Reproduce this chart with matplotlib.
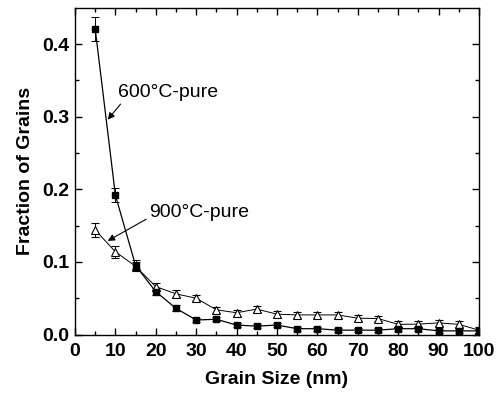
import matplotlib
matplotlib.use("Agg")
import matplotlib.pyplot as plt
import numpy as np

plt.rcParams['font.family'] = ['Liberation Sans', 'DejaVu Sans']

# grain size bins (nm)
grain_size = [5, 10, 15, 20, 25, 30, 35, 40, 45, 50,
              55, 60, 65, 70, 75, 80, 85, 90, 95, 100]

# 600 C pure
frac_600 = [0.421, 0.192, 0.095, 0.059, 0.036, 0.020, 0.021, 0.013, 0.0115, 0.013,
            0.008, 0.008, 0.006, 0.006, 0.006, 0.008, 0.008, 0.005, 0.005, 0.005]
err_600 = [0.016, 0.010, 0.007, 0.005, 0.004, 0.003, 0.003, 0.003, 0.003, 0.003,
           0.003, 0.003, 0.003, 0.003, 0.003, 0.003, 0.003, 0.003, 0.003, 0.003]

# 900 C pure
frac_900 = [0.144, 0.114, 0.094, 0.066, 0.056, 0.050, 0.034, 0.030, 0.035, 0.028,
            0.027, 0.027, 0.027, 0.0225, 0.022, 0.014, 0.0143, 0.016, 0.014, 0.006]
err_900 = [0.010, 0.008, 0.006, 0.005, 0.005, 0.004, 0.004, 0.004, 0.004, 0.004,
           0.004, 0.004, 0.004, 0.004, 0.004, 0.004, 0.004, 0.004, 0.004, 0.004]

fig = plt.figure(figsize=(5.0, 3.94), dpi=100)
ax = fig.add_axes([0.15, 0.151, 0.808, 0.829])

ax.errorbar(grain_size, frac_900, yerr=err_900, color="black", lw=0.7,
            marker="^", markersize=6, markerfacecolor="white", markeredgecolor="black",
            markeredgewidth=0.8, capsize=3, elinewidth=0.7, capthick=0.7)
ax.errorbar(grain_size, frac_600, yerr=err_600, color="black", lw=0.9,
            marker="s", markersize=5, markerfacecolor="black", markeredgecolor="black",
            capsize=3, elinewidth=0.7, capthick=0.7)

ax.annotate("600°C-pure", xy=(8.1, 0.296), xytext=(10.6, 0.333),
            fontsize=14, va="center", ha="left",
            arrowprops=dict(arrowstyle="-|>", color="black", lw=0.8,
                            mutation_scale=10, shrinkA=0, shrinkB=0,
                            relpos=(0.05, 0.0)))
ax.annotate("900°C-pure", xy=(8.1, 0.129), xytext=(18.3, 0.168),
            fontsize=14, va="center", ha="left",
            arrowprops=dict(arrowstyle="-|>", color="black", lw=0.8,
                            mutation_scale=10, shrinkA=0, shrinkB=0,
                            relpos=(0.0, 0.2)))

ax.set_xlim(0, 100)
ax.set_ylim(0, 0.45)
ax.set_xticks(np.arange(0, 101, 10))
ax.set_xticks(np.arange(5, 100, 10), minor=True)
ax.set_yticks([0.0, 0.1, 0.2, 0.3, 0.4])
ax.set_yticks([0.05, 0.15, 0.25, 0.35], minor=True)
ax.set_yticklabels(["0.0", "0.1", "0.2", "0.3", "0.4"])

ax.tick_params(which="both", direction="in", top=True, right=True, width=1.0)
ax.tick_params(which="major", length=5, labelsize=14)
ax.tick_params(axis="x", which="major", pad=6)
ax.tick_params(axis="y", which="major", pad=4)
ax.tick_params(which="minor", length=3)
for lab in ax.get_xticklabels() + ax.get_yticklabels():
    lab.set_fontweight("bold")
for sp in ax.spines.values():
    sp.set_linewidth(1.0)

ax.set_xlabel("Grain Size (nm)", fontsize=14, fontweight="bold", labelpad=8)
ax.set_ylabel("Fraction of Grains", fontsize=14, fontweight="bold", labelpad=6)

fig.savefig("out.png", dpi=100)
